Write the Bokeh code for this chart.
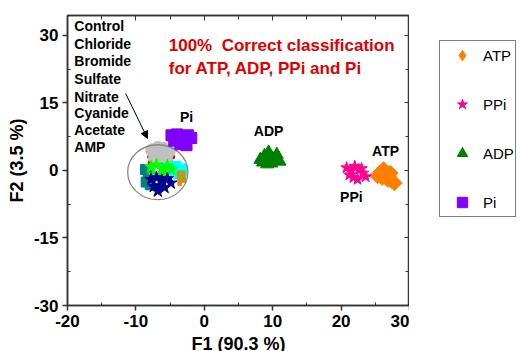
import numpy as np
from bokeh.plotting import figure
from bokeh.layouts import row
from bokeh.models import (FixedTicker, LinearAxis, Legend, LegendItem, Arrow,
                          NormalHead, Range1d)
from bokeh.core.properties import value
from bokeh.embed import file_html
from bokeh.resources import INLINE

# ---------------- data ----------------
atp_x = [25.3, 25.8, 26.2, 26.6, 27.0, 27.4, 27.8, 26.0, 26.8, 27.2]
atp_y = [-1.2, -0.4, 0.2, -0.8, -1.5, -2.3, -2.8, -1.6, -2.0, -0.6]

ppi_x = [20.8, 21.4, 22.0, 22.6, 23.2, 23.6, 21.8, 22.4, 21.2, 23.0]
ppi_y = [0.6, -0.2, 0.9, 0.2, -0.6, -1.4, -1.6, -2.0, -1.0, 0.4]

adp_x = [8.2, 8.8, 9.4, 10.0, 10.6, 11.0, 9.2, 9.8, 8.6]
adp_y = [2.4, 3.2, 4.0, 2.6, 3.5, 2.0, 1.4, 1.6, 1.8]

pi_x = [-4.8, -4.0, -3.2, -2.4, -1.9, -4.4, -3.5, -2.6]
pi_y = [7.8, 8.0, 7.6, 7.8, 7.2, 6.6, 5.8, 5.6]

chloride_x = [-8.2, -8.0, -7.9, -4.7, -4.6, -4.9]
chloride_y = [4.2, 3.0, 1.8, 4.4, 3.0, 1.9]
control_x = [-7.6, -6.8, -6.0, -5.2, -7.2, -6.4, -5.6]
control_y = [4.5, 5.0, 4.8, 4.2, 2.8, 3.2, 2.6]
bromide_x = [-7.8, -7.0, -6.2, -5.4, -4.8, -7.4, -6.6, -5.8]
bromide_y = [0.8, 1.2, 0.4, 1.0, 0.2, -1.0, -1.4, -0.8]
sulfate_x = [-5.0, -4.2, -3.4, -4.6, -3.8]
sulfate_y = [0.6, 0.8, 0.2, -0.4, -0.6]
nitrate_x = [-3.4, -3.3]
nitrate_y = [-1.0, -1.8]
cyanide_x = [-8.6, -8.2, -8.5, -7.9]
cyanide_y = [0.2, -1.2, -2.6, -3.2]
acetate_x = [-7.8, -7.0, -6.2, -5.4, -4.9, -7.4, -6.6, -5.8, -6.8]
acetate_y = [-2.0, -1.6, -2.2, -1.8, -2.8, -3.6, -3.4, -3.8, -4.6]
amp_x = [-3.6]
amp_y = [-3.0]

group_circle_x = [-6.8]
group_circle_y = [-0.4]
group_circle_w = [8.8]
group_circle_h = [12.2]

anion_names = ["Control", "Chloride", "Bromide", "Sulfate", "Nitrate",
               "Cyanide", "Acetate", "AMP"]
anion_label_x = [-19.0] * 8
anion_label_y = [32.0, 28.0, 24.2, 20.4, 16.4, 12.7, 8.9, 5.1]

cluster_names = ["Pi", "ADP", "ATP", "PPi"]
cluster_label_x = [-2.6, 9.4, 26.5, 21.5]
cluster_label_y = [11.8, 8.7, 4.2, -6.0]

title_lines = ["100%\u00a0 Correct classification", "for ATP, ADP, PPi and Pi"]
title_x = [-5.2, -5.2]
title_y = [27.8, 22.7]

arrow_start = (-11.5, 17.1)
arrow_end = (-8.3, 7.1)

x_ticks = [-20, -10, 0, 10, 20, 30]
x_minor = [-15, -5, 5, 15, 25]
y_ticks = [-30, -15, 0, 15, 30]
y_minor = [-22.5, -7.5, 7.5, 22.5]

legend_names = ["ATP", "PPi", "ADP", "Pi"]
legend_colors = ["#FF8000", "#FF0090", "#008000", "#8000FF"]
legend_markers = ["diamond", "star", "triangle", "square"]
legend_sizes = [15, 13, 13, 9]
legend_xs = [atp_x, ppi_x, adp_x, pi_x]
legend_ys = [atp_y, ppi_y, adp_y, pi_y]

# ---------------- main figure ----------------
FONT = "Liberation Sans"
p = figure(frame_width=342, frame_height=290, output_backend="svg",
           toolbar_location=None,
           x_range=Range1d(-20, 30), y_range=Range1d(-30, 34.4),
           min_border_left=67, min_border_right=0, min_border_top=15,
           min_border_bottom=46)
p.grid.visible = False
p.outline_line_color = "#333333"
p.outline_line_width = 1.5
p.background_fill_color = "white"

AX = "#333333"
for ax, tk, mn in ((p.xaxis[0], x_ticks, x_minor), (p.yaxis[0], y_ticks, y_minor)):
    ax.ticker = FixedTicker(ticks=tk, minor_ticks=mn)
    ax.major_label_overrides = {t: str(t) for t in tk}
    ax.axis_line_color = AX
    ax.axis_line_width = 1.5
    ax.major_tick_line_color = AX
    ax.minor_tick_line_color = AX
    ax.major_tick_line_width = 1.5
    ax.major_tick_out = 5
    ax.major_tick_in = 0
    ax.minor_tick_out = 0
    ax.minor_tick_in = 3
    ax.major_label_standoff = 4
    ax.major_label_text_font = FONT
    ax.major_label_text_font_style = "bold"
    ax.major_label_text_font_size = "17px"
    ax.major_label_text_color = "black"
    ax.axis_label_text_font = FONT
    ax.axis_label_text_font_style = "bold"
    ax.axis_label_text_font_size = "18px"
    ax.axis_label_text_color = "black"
p.xaxis[0].axis_label = "F1 (90.3 %)"
p.yaxis[0].axis_label = "F2 (3.5 %)"
p.xaxis[0].axis_label_standoff = 4
p.yaxis[0].axis_label_standoff = 4

top = LinearAxis(ticker=FixedTicker(ticks=x_ticks, minor_ticks=x_minor))
right = LinearAxis(ticker=FixedTicker(ticks=y_ticks, minor_ticks=y_minor))
for ax, tk in ((top, x_ticks), (right, y_ticks)):
    ax.major_label_overrides = {t: "" for t in tk}
    ax.axis_line_color = AX
    ax.axis_line_width = 1.5
    ax.major_tick_line_color = AX
    ax.minor_tick_line_color = AX
    ax.major_tick_out = 0
    ax.major_tick_in = 5
    ax.minor_tick_out = 0
    ax.minor_tick_in = 4
    ax.major_label_text_font_size = "1px"
    ax.major_label_standoff = 0
p.add_layout(top, "above")
p.add_layout(right, "right")

# ---------------- anion cluster ----------------
p.scatter(chloride_x, chloride_y, marker="circle", size=4, color="#E00000")
p.scatter(control_x, control_y, marker="circle", size=13, color="#C0C0C0")
p.scatter(cyanide_x, cyanide_y, marker="square", size=10, color="#008080")
p.scatter(sulfate_x, sulfate_y, marker="square", size=11, color="#00FFFF")
p.scatter(nitrate_x, nitrate_y, marker="square", size=8, color="#B0A020")
p.scatter(bromide_x, bromide_y, marker="star", size=13, color="#00FF00")
p.scatter(acetate_x, acetate_y, marker="star", size=13, color="#000090")
p.scatter(amp_x, amp_y, marker="circle", size=4, color="#FF8000")
p.ellipse(x=group_circle_x, y=group_circle_y, width=group_circle_w,
          height=group_circle_h, fill_color=None, line_color="#888888",
          line_width=1.3)

# ---------------- nucleotide clusters ----------------
p.scatter(atp_x, atp_y, marker="square", angle=np.pi / 4, size=11,
          color=legend_colors[0])
p.scatter(ppi_x, ppi_y, marker="star", size=12, color=legend_colors[1])
p.scatter(adp_x, adp_y, marker="triangle", size=13, color=legend_colors[2])
p.scatter(pi_x, pi_y, marker="square", size=11, color=legend_colors[3])

# ---------------- texts ----------------
p.text(anion_label_x, anion_label_y, text=anion_names, text_font=value(FONT),
       text_font_style="bold", text_font_size="14px", text_color="black",
       text_baseline="middle", text_align="left")
p.text(cluster_label_x, cluster_label_y, text=cluster_names,
       text_font=value(FONT), text_font_style="bold", text_font_size="14px",
       text_color="black", text_baseline="middle", text_align="center")
p.text(title_x, title_y, text=title_lines, text_font=value(FONT),
       text_font_style="bold", text_font_size="17px", text_color="#E00000",
       text_baseline="middle", text_align="left")

p.add_layout(Arrow(x_start=arrow_start[0], y_start=arrow_start[1],
                   x_end=arrow_end[0], y_end=arrow_end[1], line_width=1,
                   line_color="black",
                   end=NormalHead(size=7, fill_color="black", line_color="black")))

# ---------------- legend figure ----------------
q = figure(width=115, height=351, output_backend="svg", toolbar_location=None,
           x_range=Range1d(0, 1), y_range=Range1d(0, 1),
           min_border_left=5, min_border_right=0, min_border_top=0,
           min_border_bottom=0)
q.axis.visible = False
q.grid.visible = False
q.outline_line_color = None
items = []
for n, c, m, s, xs, ys in zip(legend_names, legend_colors, legend_markers,
                              legend_sizes, legend_xs, legend_ys):
    # proxy glyphs: same data, outside this figure's range -> only legend shows
    r = q.scatter(xs, ys, marker=m, size=s, color=c)
    items.append(LegendItem(label=n, renderers=[r]))
legend = Legend(items=items, location="top_left", margin=25, padding=1,
                spacing=23, glyph_height=26, glyph_width=42, label_standoff=0,
                label_text_font=FONT, label_text_font_size="15px",
                label_text_color="black", border_line_color="black",
                border_line_width=1, background_fill_color="white")
q.add_layout(legend)

layout = row(p, q)
open("out.html", "w").write(file_html(layout, INLINE))
